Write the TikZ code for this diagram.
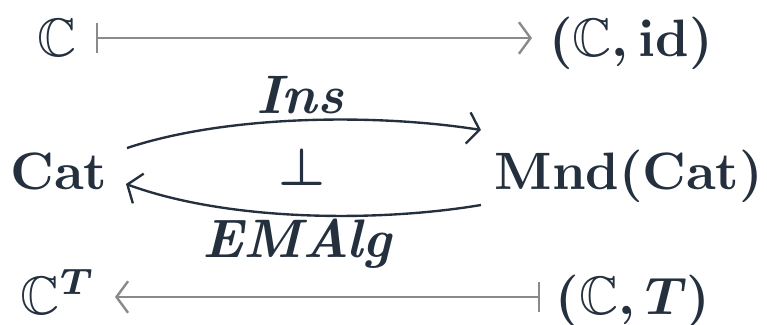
\documentclass[tikz,border=0pt]{standalone}
\usepackage{amsmath,amssymb,bm}
\usetikzlibrary{arrows.meta,calc}
\definecolor{ink}{HTML}{24303E}
\definecolor{arr}{HTML}{8A8A8A}
\tikzset{
  lbl/.style={text=ink,inner sep=0pt,font=\fontsize{10.3}{12}\selectfont\boldmath},
  maparrow/.style={draw=arr,line width=0.45pt,{Bar[width=5.6pt]}-{Straight Barb[length=2.2pt,width=6pt]}},
  curvearrow/.style={draw=ink,line width=0.45pt,-{Straight Barb[length=2.2pt,width=6pt]}},
}
\begin{document}
\begin{tikzpicture}[x=0.19pt,y=-0.19pt]
\useasboundingbox (0,0) rectangle (767,325);
% top row
\node[lbl,anchor=base] (c1) at (57,56) {$\mathbb{C}$};
\node[lbl,anchor=base] (cid) at (631,56) {$(\mathbb{C},\mathbf{id})$};
% middle row
\node[lbl,anchor=base] (cat) at (59,189) {$\mathbf{Cat}$};
\node[lbl,anchor=base] (mnd) at (629,189) {$\mathbf{Mnd}(\mathbf{Cat})$};
% bottom row
\node[lbl,anchor=base] (ct) at (58,314) {$\mathbb{C}^{\bm{T}}$};
\node[lbl,anchor=base] (cT) at (633,314) {$(\mathbb{C},\bm{T})$};
% labels
\node[lbl] (ins) at (300,95) {\textbf{\textit{Ins}}};
\node[lbl] (perp) at (302,167) {$\perp$};
\node[lbl] (ema) at (298,244) {\textbf{\textit{EMAlg}}};
% connector end points
\coordinate (a1) at (96,38);
\coordinate (a2) at (532,38);
\coordinate (b1) at (540,297);
\coordinate (b2) at (115,297);
\coordinate (u1) at (127,148);
\coordinate (u2) at (481,130);
\coordinate (l1) at (481,205);
\coordinate (l2) at (126,184);
% arrows
\draw[maparrow] (a1) -- (a2);
\draw[maparrow] (b1) -- (b2);
\draw[curvearrow] (u1) .. controls (230,114) and (380,114) .. (u2);
\draw[curvearrow] (l1) .. controls (380,222) and (230,222) .. (l2);
\end{tikzpicture}
\end{document}
